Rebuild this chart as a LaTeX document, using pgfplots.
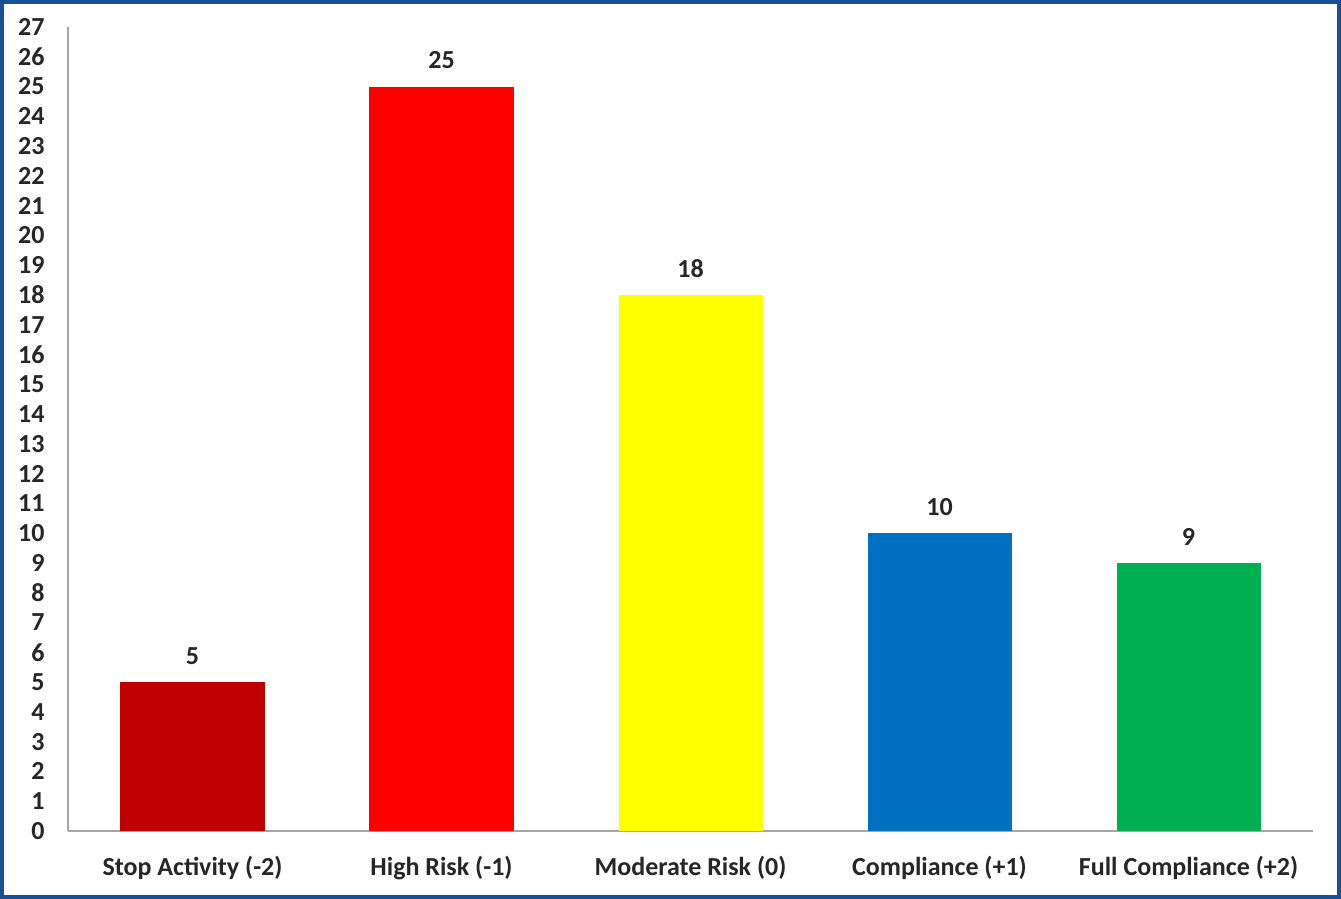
\documentclass[border=0pt]{standalone}
\usepackage{pgfplots}
\pgfplotsset{compat=1.18}
\usepackage{fontspec}
\setmainfont{Carlito}

\definecolor{framecol}{HTML}{1A4F96}
\definecolor{axisgray}{HTML}{A6A6A6}
\definecolor{txt}{HTML}{262626}
\definecolor{c1}{HTML}{C00000}
\definecolor{c2}{HTML}{FF0000}
\definecolor{c3}{HTML}{FFFF00}
\definecolor{c4}{HTML}{0070C0}
\definecolor{c5}{HTML}{00B050}

\begin{document}
\begin{tikzpicture}[x=1pt,y=1pt]
  % picture area: 1341x899 px at 0.5pt per px
  \path[use as bounding box] (-34,-34) rectangle (636.5,415.5);
  \fill[white] (-34,-34) rectangle (636.5,415.5);
  \draw[framecol, line width=2.2pt] (-32.9,-32.9) rectangle (635.4,414.4);

  \begin{axis}[
    at={(0,0)}, anchor=south west,
    scale only axis,
    width=622.5pt, height=402pt,
    xmin=-0.5, xmax=4.5,
    ymin=0, ymax=27,
    axis lines*=left,
    axis line style={draw=axisgray, line width=0.8pt},
    major tick length=0pt,
    tick style={draw=none},
    ytick={0,1,...,27},
    xtick={0,1,2,3,4},
    xticklabels={Stop Activity (-2), High Risk (-1), Moderate Risk (0), Compliance (+1), Full Compliance (+2)},
    ticklabel style={font=\bfseries\fontsize{13}{13}\selectfont, text=txt},
    /pgf/number format/assume math mode=true,
    yticklabel style={anchor=east, inner sep=0pt, xshift=-11.5pt},
    xticklabel style={anchor=center, inner sep=0pt, yshift=-18.5pt},
    ybar, bar width=72pt,
    nodes near coords,
    nodes near coords style={font=\bfseries\fontsize{13}{13}\selectfont, text=txt, anchor=center, inner sep=0pt, yshift=13pt},
    clip=false,
  ]
    \addplot[bar shift=0pt, fill=c1, draw=none] coordinates {(0,5)};
    \addplot[bar shift=0pt, fill=c2, draw=none] coordinates {(1,25)};
    \addplot[bar shift=0pt, fill=c3, draw=none] coordinates {(2,18)};
    \addplot[bar shift=0pt, fill=c4, draw=none] coordinates {(3,10)};
    \addplot[bar shift=0pt, fill=c5, draw=none] coordinates {(4,9)};
  \end{axis}
\end{tikzpicture}
\end{document}
